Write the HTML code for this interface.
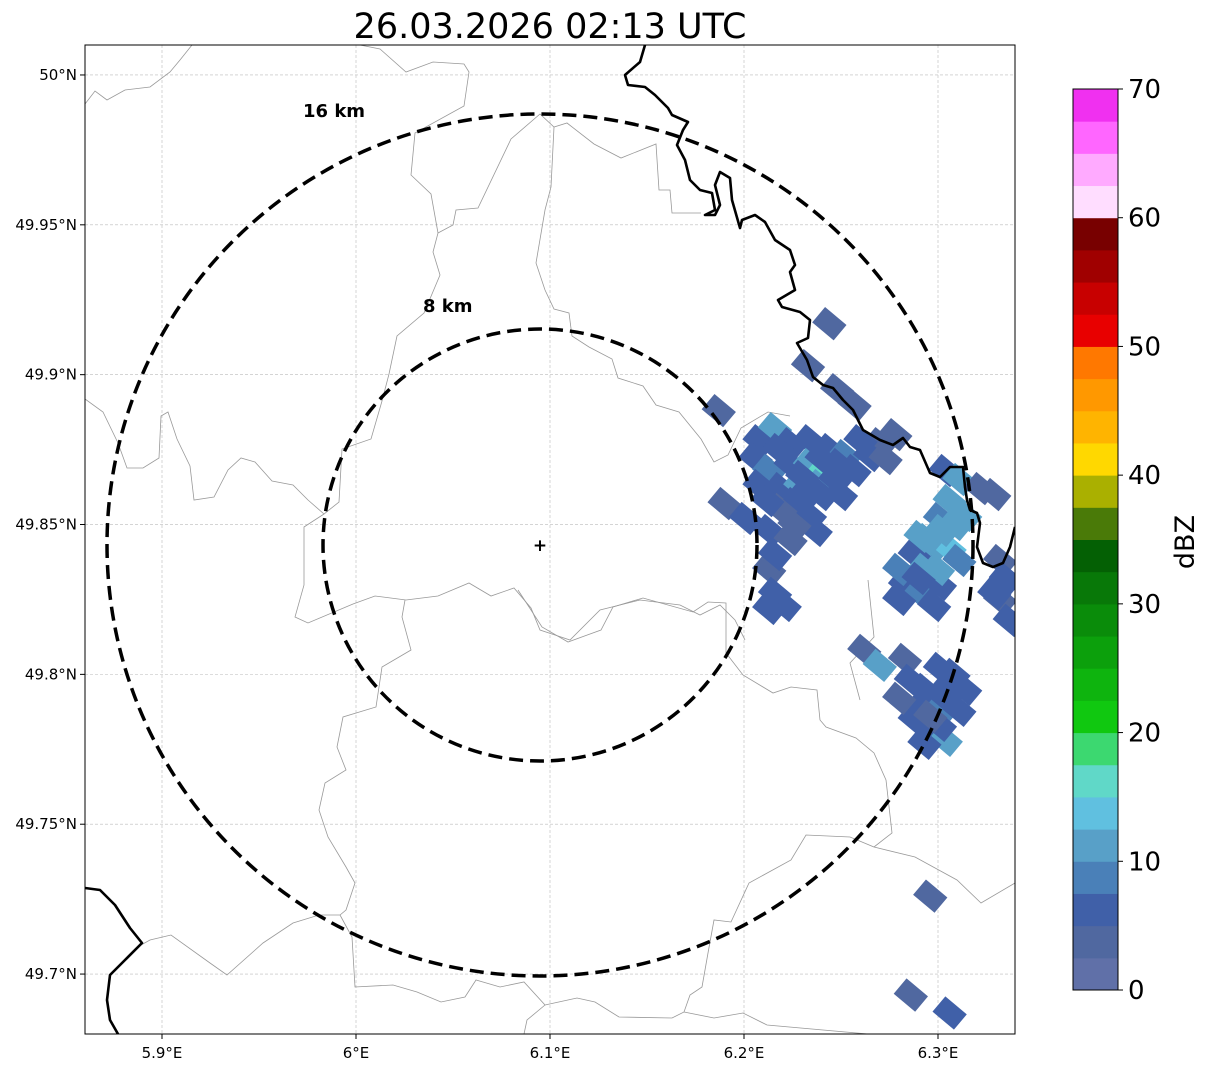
<!DOCTYPE html>
<html><head><meta charset="utf-8">
<style>
body{margin:0;background:#fff;width:1207px;height:1069px;overflow:hidden;font-family:"Liberation Sans","DejaVu Sans",sans-serif}
svg text{font-family:"DejaVu Sans","Liberation Sans",sans-serif}
</style></head><body>
<svg id="chart" width="1207" height="1069" viewBox="0 0 1207 1069" xmlns="http://www.w3.org/2000/svg">
<text x="550" y="38" font-size="35" text-anchor="middle" fill="#000">26.03.2026 02:13 UTC</text>
<defs><clipPath id="mapclip"><rect x="85" y="45" width="930" height="989"/></clipPath></defs>
<g id="grid"></g>
<g clip-path="url(#mapclip)">
<g fill="none" stroke="#999" stroke-width="0.8">
<polyline points="85,104 95,91 107,100 125,90 150,87 170,72 180,60 192,45"/>
<polyline points="360,45 380,49 406,72 433,62 464,64 469,72 464,106 415,133 411,175 431,194 438,233 433,252 440,275 424,313 397,336 389,374 382,401 371,439 342,449 339,502 324,514 304,527 304,585 295,617 308,623 353,604 375,596 406,600 438,596 469,583 491,596 514,588 531,608 540,630 570,640 600,610 640,600 680,605 700,615 720,605 735,620 745,640"/>
<polyline points="438,233 453,225 456,210 478,208 511,139 540,114 554,127 567,123 594,144 621,158 656,144 659,190 670,190 672,213 701,213"/>
<polyline points="554,127 551,187 545,210 536,263 545,290 554,309 569,313 572,336 589,347 612,359 618,378 643,386 656,405 679,412 701,439 714,462 728,455 741,428 768,412 790,416"/>
<polyline points="85,399 103,412 118,443 127,468 143,468 159,458 161,416 168,412 177,439 190,466 194,500 214,497 228,470 241,458 255,462 272,481 293,485 308,500 324,514"/>
<polyline points="405,600 402,617 411,650 382,667 376,707 343,717 337,747 346,770 325,783 319,810 328,837 346,867 355,883 346,910 340,915 319,915 293,923 263,943 227,975 210,963 171,935 150,940 141,945"/>
<polyline points="340,915 352,937 355,987 393,985 417,992 441,1002 465,997 476,980 500,987 524,982 545,1005 527,1020 524,1034"/>
<polyline points="545,1005 577,998 595,1002 619,1017 672,1018 684,1012 690,995 702,987 708,953 714,920 731,922 749,883 791,860 806,835 850,837 874,847 892,833 886,780 874,753 856,738 826,727 820,720 817,690 791,687 773,693 743,675 726,653 726,603 708,602 693,612 643,598 613,607 601,630 568,642 542,627 518,590"/>
<polyline points="684,1012 714,1018 743,1013 767,1025 868,1034"/>
<polyline points="874,847 915,857 957,880 981,903 1015,883"/>
<polyline points="868,580 874,637 850,663 860,700"/>
</g>
<g id="cells"></g>
<g fill="none" stroke="#000" stroke-width="2.6" stroke-linejoin="round">
<polyline points="645,45 640,62 625,75 628,85 645,87 655,95 668,108 672,115 688,122 683,130 677,145 685,160 690,180 700,190 712,193 715,210 705,215 715,215 720,205 715,185 720,172 730,178 732,200 740,228 742,220 755,215 765,222 775,240 790,250 795,265 790,272 795,290 778,300 782,307 800,312 810,320 808,338 797,343 807,360 813,377 823,385 833,388 843,400 853,410 863,430 880,440 893,445 903,438 910,447 920,450 930,473 940,477 950,467 963,467 965,487 967,500 970,510 977,513 980,523 977,547 983,563 993,567 1003,563 1010,547 1015,527"/>
<polyline points="85,888 100,890 115,905 130,928 142,943 125,960 110,975 107,1000 110,1020 118,1034"/>
</g>
<g fill="none" stroke="#000" stroke-width="3.5" stroke-dasharray="14,7">
<ellipse cx="540" cy="545" rx="433" ry="431"/>
<ellipse cx="540" cy="545" rx="217" ry="216"/>
</g>
<text x="303" y="117" font-size="18" font-weight="bold">16 km</text>
<text x="423" y="312" font-size="18" font-weight="bold">8 km</text>
<text x="540" y="551" font-size="17" font-weight="bold" text-anchor="middle">+</text>
</g>
<rect x="85" y="45" width="930" height="989" fill="none" stroke="#000" stroke-width="1"/>
<g id="ticks" font-size="15" fill="#000"></g>
<g id="cbar"></g>
<text transform="translate(1194,542) rotate(-90)" font-size="27" text-anchor="middle">dBZ</text>
</svg>
<script>
const lonTicks=[5.9,6.0,6.1,6.2,6.3];
const lonLabels=["5.9°E","6°E","6.1°E","6.2°E","6.3°E"];
const latTicks=[50.0,49.95,49.9,49.85,49.8,49.75,49.7];
const latLabels=["50°N","49.95°N","49.9°N","49.85°N","49.8°N","49.75°N","49.7°N"];
const cbarTicks=[0,10,20,30,40,50,60,70];
const cbarColors=["#6070a8","#5068a0","#4060a8","#4a80b8","#58a0c8","#60c0e0","#60d8c8","#3cd870","#10c810","#0eb40e","#0ca00c","#0a8c0a","#087808","#046004","#4a7a08","#aab000","#ffd800","#ffb400","#ff9800","#ff7800","#e80000","#c80000","#a00000","#780000","#ffddff","#ffaaff","#ff66ff","#f030f0"];
const cellLon=[6.244,6.187,6.233,6.248,6.257,6.278,6.270,6.208,6.216,6.224,6.234,6.244,6.252,6.260,6.265,6.273,6.206,6.213,6.224,6.234,6.242,6.249,6.257,6.208,6.219,6.229,6.239,6.247,6.226,6.234,6.237,6.219,6.190,6.201,6.213,6.224,6.213,6.216,6.221,6.213,6.304,6.311,6.322,6.329,6.306,6.301,6.309,6.314,6.298,6.306,6.311,6.288,6.293,6.283,6.291,6.298,6.280,6.301,6.332,6.335,6.332,6.337,6.329,6.262,6.270,6.283,6.286,6.293,6.301,6.309,6.314,6.293,6.304,6.311,6.288,6.296,6.304,6.293,6.280,6.301,6.280,6.291,6.229,6.216,6.250,6.240,6.296,6.286,6.306,6.218,6.230,6.240,6.226,6.212,6.300,6.294,6.290,6.302,6.308,6.296,6.302];
const cellLat=[49.917,49.888,49.903,49.895,49.890,49.880,49.877,49.878,49.882,49.877,49.878,49.875,49.873,49.878,49.873,49.872,49.872,49.868,49.870,49.870,49.868,49.870,49.868,49.863,49.862,49.863,49.863,49.865,49.857,49.853,49.848,49.855,49.857,49.852,49.848,49.845,49.835,49.827,49.823,49.822,49.868,49.865,49.862,49.860,49.858,49.852,49.850,49.853,49.843,49.842,49.838,49.840,49.835,49.830,49.827,49.823,49.825,49.830,49.838,49.832,49.825,49.818,49.827,49.808,49.803,49.805,49.798,49.795,49.802,49.797,49.795,49.790,49.790,49.788,49.785,49.782,49.778,49.777,49.792,49.783,49.835,49.846,49.858,49.840,49.860,49.872,49.726,49.693,49.687,49.875,49.866,49.860,49.850,49.858,49.835,49.845,49.832,49.793,49.800,49.786,49.848];
const cellDbz=[3,3,3,3,3,3,3,5,10,5,5,5,8,5,5,3,5,8,5,10,15,5,5,5,5,10,12,5,5,5,5,3,3,5,5,3,3,5,5,5,5,10,3,3,10,8,12,10,10,13,8,5,10,5,8,5,5,5,3,5,3,5,5,3,10,3,5,5,5,5,5,5,8,5,5,5,10,5,3,5,8,10,5,5,5,5,3,3,5,5,5,5,3,5,10,10,5,5,5,3,10];
const X0=85,X1=1015,Y0=45,Y1=1034;
const LON0=5.9-77/1940,LON1=6.3+77/1940,LAT1=50+30/3000,LAT0=49.7-60/3000;
function xs(lon){return X0+(lon-LON0)/(LON1-LON0)*(X1-X0);}
function ys(lat){return Y0+(LAT1-lat)/(LAT1-LAT0)*(Y1-Y0);}
const NS="http://www.w3.org/2000/svg";
function mk(tag,attrs,parent){const e=document.createElementNS(NS,tag);for(const k in attrs)e.setAttribute(k,attrs[k]);parent.appendChild(e);return e;}
const grid=document.getElementById('grid'),ticks=document.getElementById('ticks');
lonTicks.forEach((v,i)=>{const x=xs(v);
 const g=mk('line',{x1:x,x2:x,y1:Y0,y2:Y1,stroke:'#bbb','stroke-width':0.6,'stroke-dasharray':'3,2'},grid);
 
 
 const t=mk('line',{x1:x,x2:x,y1:Y1,y2:Y1+5,stroke:'#000'},ticks);
 
 
 const l=mk('text',{x:x,y:Y1+24,'text-anchor':'middle'},ticks);l.textContent=lonLabels[i];
 
 
});
latTicks.forEach((v,i)=>{const y=ys(v);
 const g=mk('line',{x1:X0,x2:X1,y1:y,y2:y,stroke:'#bbb','stroke-width':0.6,'stroke-dasharray':'3,2'},grid);
 
 
 const t=mk('line',{x1:X0-5,x2:X0,y1:y,y2:y,stroke:'#000'},ticks);
 
 
 const l=mk('text',{x:X0-8,y:y+5,'text-anchor':'end'},ticks);l.textContent=latLabels[i];
 
 
});
function colorFor(d){let i=Math.floor(d/2.5);if(i<0)i=0;if(i>=cbarColors.length)i=cbarColors.length-1;return cbarColors[i];}
const cells=document.getElementById('cells');
cellLon.forEach((lon,i)=>{const cx=xs(lon),cy=ys(cellLat[i]);
 const r=mk('rect',{x:cx-14,y:cy-10,width:28,height:20,fill:colorFor(cellDbz[i]),transform:`rotate(40 ${cx} ${cy})`},cells);
 
 
});
const cb=document.getElementById('cbar');
const CBX=1073,CBW=45,CBY0=990,CBY1=89;
function cy(v){return CBY0-(v/70)*(CBY0-CBY1);}
cbarColors.forEach((c,i)=>{const a=cy(i*2.5),b=cy((i+1)*2.5);
 const r=mk('rect',{x:CBX,y:b,width:CBW,height:a-b+0.5,fill:c},cb);
 
 
});
const fr=mk('rect',{x:CBX,y:CBY1,width:CBW,height:CBY0-CBY1,fill:'none',stroke:'#000','stroke-width':1},cb);


cbarTicks.forEach(v=>{const y=cy(v);
 const t=mk('line',{x1:CBX+CBW,x2:CBX+CBW+5,y1:y,y2:y,stroke:'#000'},cb);
 
 
 const l=mk('text',{x:CBX+CBW+10,y:y+9,'font-size':26},cb);l.textContent=v;
 
 
});
</script>
</body></html>
